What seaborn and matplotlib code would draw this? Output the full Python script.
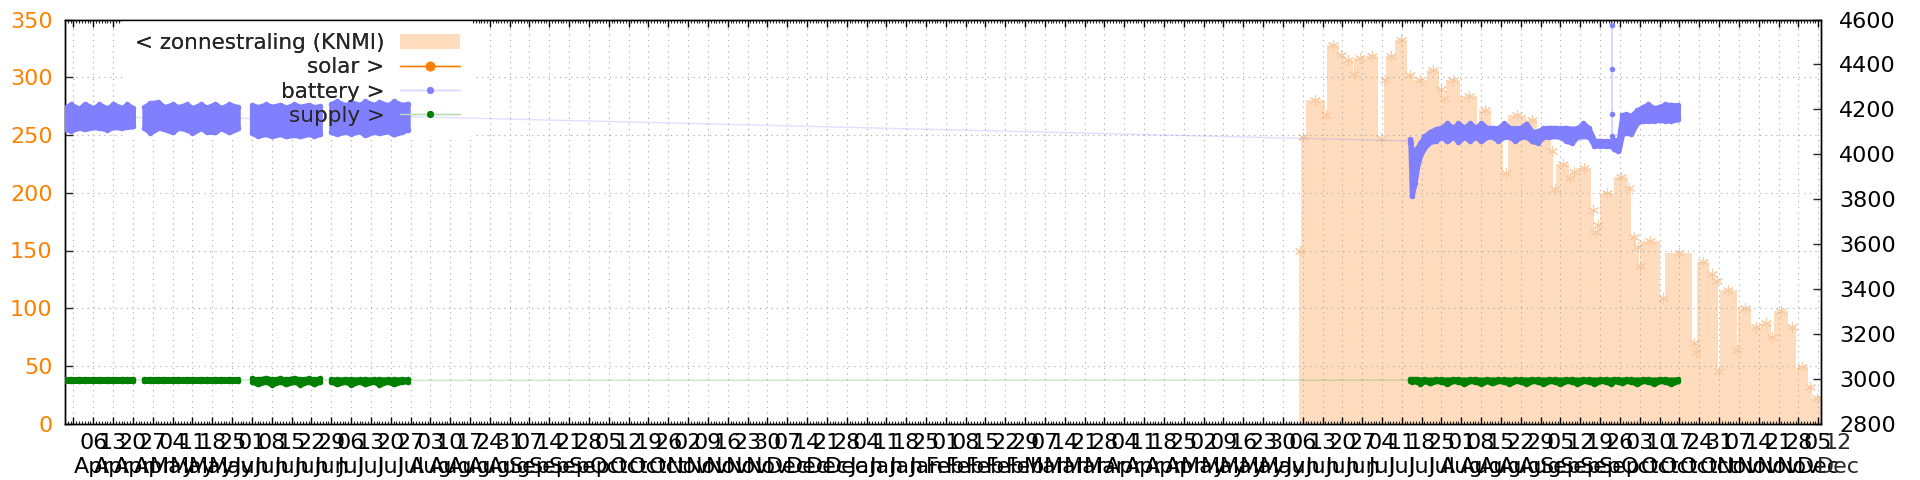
import matplotlib
matplotlib.use("Agg")
import matplotlib.pyplot as plt
import matplotlib.dates as mdates
from matplotlib.lines import Line2D
from matplotlib.patches import Patch
import pandas as pd
import seaborn as sns

# zonnestraling (KNMI), W/m2, left axis -- value holds from this time to the next
zon_time = [
    "2024-06-04 18:00", "2024-06-05 12:00", "2024-06-07 00:00", "2024-06-13 18:00", "2024-06-14 12:00",
    "2024-06-18 18:00", "2024-06-20 12:00", "2024-06-23 18:00", "2024-06-24 06:00", "2024-06-28 12:00",
    "2024-07-02 18:00", "2024-07-04 18:00", "2024-07-05 12:00", "2024-07-08 18:00", "2024-07-13 00:00",
    "2024-07-15 00:00", "2024-07-19 18:00", "2024-07-24 00:00", "2024-07-25 12:00", "2024-07-26 14:00",
    "2024-07-31 16:00", "2024-08-06 10:00", "2024-08-07 08:00", "2024-08-11 14:00", "2024-08-15 18:00",
    "2024-08-17 12:00", "2024-08-23 20:00", "2024-08-27 20:00", "2024-09-01 20:00", "2024-09-02 12:00",
    "2024-09-03 12:00", "2024-09-08 00:00", "2024-09-09 00:00", "2024-09-10 14:00", "2024-09-15 22:00",
    "2024-09-16 20:00", "2024-09-17 20:00", "2024-09-18 20:00", "2024-09-24 00:00", "2024-09-28 18:00",
    "2024-09-30 00:00", "2024-10-01 18:00", "2024-10-02 18:00", "2024-10-03 06:00", "2024-10-10 06:00",
    "2024-10-12 00:00", "2024-10-21 12:00", "2024-10-22 18:00", "2024-10-23 06:00", "2024-10-27 12:00",
    "2024-10-29 18:00", "2024-10-30 12:00", "2024-10-31 06:00", "2024-11-06 06:00", "2024-11-06 18:00",
    "2024-11-11 06:00", "2024-11-14 18:00", "2024-11-18 12:00", "2024-11-19 06:00", "2024-11-24 06:00",
    "2024-11-27 06:00", "2024-12-01 06:00", "2024-12-02 18:00", "2024-12-06 12:00",
]
zon_value = [
    150, 248, 280, 267, 328,
    319, 315, 303, 317, 318,
    247, 298, 318, 332, 302,
    298, 306, 290, 282, 298,
    284, 250, 272, 250, 217,
    267, 263, 249, 236, 203,
    225, 213, 218, 221, 185,
    166, 172, 200, 214, 204,
    162, 153, 137, 158, 109,
    148, 70, 62, 140, 130,
    124, 46, 116, 64, 100,
    84, 87, 75, 98, 84,
    49, 32, 22, 22,
]

# battery and supply (mV, right axis): low / high of the readings around each time
samp_time = [
    "2023-03-27", "2023-03-29", "2023-04-01", "2023-04-03", "2023-04-06", "2023-04-08",
    "2023-04-11", "2023-04-13", "2023-04-16", "2023-04-18", "2023-04-20",
    "2023-04-24", "2023-04-26", "2023-04-29", "2023-05-01", "2023-05-04", "2023-05-06", "2023-05-09",
    "2023-05-11", "2023-05-14", "2023-05-16", "2023-05-19", "2023-05-21", "2023-05-24", "2023-05-27",
    "2023-06-01", "2023-06-03", "2023-06-06", "2023-06-08", "2023-06-11", "2023-06-13",
    "2023-06-16", "2023-06-18", "2023-06-21", "2023-06-23", "2023-06-25",
    "2023-06-29", "2023-07-01", "2023-07-04", "2023-07-06", "2023-07-09", "2023-07-11",
    "2023-07-14", "2023-07-16", "2023-07-19", "2023-07-21", "2023-07-24", "2023-07-26",
    "2024-07-14 00:00", "2024-07-14 12:00", "2024-07-15 12:00", "2024-07-16 12:00", "2024-07-17 12:00",
    "2024-07-19", "2024-07-21", "2024-07-23", "2024-07-25", "2024-07-27", "2024-07-29", "2024-07-31",
    "2024-08-02", "2024-08-04", "2024-08-06", "2024-08-08", "2024-08-10", "2024-08-12", "2024-08-14",
    "2024-08-16", "2024-08-18", "2024-08-20", "2024-08-22", "2024-08-24", "2024-08-26", "2024-08-28",
    "2024-08-30", "2024-09-01", "2024-09-03", "2024-09-05", "2024-09-07", "2024-09-09", "2024-09-11",
    "2024-09-13", "2024-09-15", "2024-09-17", "2024-09-19", "2024-09-21", "2024-09-23", "2024-09-24",
    "2024-09-25 12:00", "2024-09-26 20:00", "2024-09-28", "2024-09-30", "2024-10-02", "2024-10-04",
    "2024-10-06", "2024-10-08", "2024-10-10", "2024-10-12", "2024-10-14", "2024-10-16 12:00",
]
bat_low = [
    4112, 4105, 4118, 4112, 4120, 4118, 4110, 4120, 4118, 4122, 4124,
    4118, 4096, 4118, 4112, 4098, 4118, 4110, 4096, 4116, 4100, 4098, 4116, 4098, 4115,
    4095, 4082, 4090, 4080, 4090, 4080, 4086, 4080, 4090, 4082, 4090,
    4098, 4090, 4100, 4092, 4102, 4085, 4100, 4094, 4102, 4088, 4100, 4110,
    4052, 3815, 3870, 3950, 3995,
    4030, 4055, 4060, 4078, 4058, 4078, 4056,
    4078, 4060, 4078, 4058, 4078, 4078, 4060,
    4078, 4078, 4060, 4078, 4078, 4058, 4052,
    4078, 4078, 4080, 4078, 4060, 4052, 4078,
    4080, 4078, 4038, 4038, 4038, 4036, 4022,
    4015, 4092, 4095, 4092, 4140, 4150,
    4148, 4150, 4152, 4150, 4150, 4155,
]
bat_high = [
    4208, 4222, 4203, 4224, 4205, 4222, 4204, 4224, 4206, 4222, 4205,
    4210, 4228, 4232, 4210, 4222, 4210, 4222, 4206, 4222, 4208, 4224, 4206, 4222, 4210,
    4220, 4210, 4222, 4212, 4220, 4208, 4222, 4212, 4220, 4210, 4215,
    4225, 4235, 4218, 4232, 4220, 4235, 4220, 4232, 4218, 4235, 4220, 4225,
    4066, 4005, 4015, 4030, 4050,
    4080, 4100, 4112, 4118, 4138, 4118, 4138,
    4118, 4138, 4118, 4138, 4118, 4118, 4116,
    4138, 4118, 4116, 4118, 4136, 4100, 4102,
    4116, 4118, 4118, 4116, 4118, 4114, 4116,
    4138, 4116, 4060, 4060, 4058, 4060, 4064,
    4062, 4175, 4178, 4172, 4195, 4210,
    4222, 4205, 4212, 4222, 4220, 4218,
]
sup_low = [
    2990, 2990, 2990, 2990, 2990, 2990, 2990, 2990, 2990, 2990, 2990,
    2990, 2990, 2990, 2990, 2990, 2990, 2990, 2990, 2990, 2990, 2990, 2990, 2990, 2990,
    2988, 2976, 2988, 2974, 2988, 2976, 2988, 2974, 2988, 2976, 2988,
    2988, 2976, 2988, 2974, 2988, 2976, 2988, 2974, 2988, 2976, 2988, 2988,
    2990, 2988, 2990, 2988, 2977,
    2990, 2980, 2990, 2988, 2977, 2990, 2988,
    2977, 2990, 2988, 2977, 2990, 2980, 2990,
    2988, 2977, 2990, 2988, 2977, 2990, 2988,
    2977, 2990, 2988, 2977, 2990, 2988, 2977,
    2990, 2988, 2977, 2990, 2988, 2977, 2990,
    2988, 2980, 2990, 2988, 2977, 2990,
    2988, 2977, 2990, 2988, 2977, 2990,
]
sup_high = [
    2998, 2998, 2998, 2998, 2998, 2998, 2998, 2998, 2998, 2998, 2998,
    2998, 2998, 2998, 2998, 2998, 2998, 2998, 2998, 2998, 2998, 2998, 2998, 2998, 2998,
    3002, 2998, 3004, 2998, 3002, 2998, 3004, 2998, 3002, 2998, 3002,
    2998, 2998, 2998, 2998, 2998, 2998, 2998, 2998, 2998, 2998, 2998, 2998,
    2998, 2998, 2998, 2998, 2997,
    2998, 2997, 2998, 2998, 2997, 2998, 2998,
    2997, 2998, 2998, 2997, 2998, 2997, 2998,
    2998, 2997, 2998, 2998, 2997, 2998, 2998,
    2997, 2998, 2998, 2997, 2998, 2998, 2997,
    2998, 2998, 2997, 2998, 2998, 2997, 2998,
    2998, 2997, 2998, 2998, 2997, 2998,
    2998, 2997, 2998, 2998, 2997, 2998,
]

# single battery readings of the spike on 23 Sep 2024
spike_time = ["2024-09-23 04:00", "2024-09-23 06:00", "2024-09-23 07:00", "2024-09-23 08:00", "2024-09-23 09:00"]
spike_value = [4060, 4576, 4380, 4180, 4082]

# solar: no readings in this window
solar_time = []
solar_value = []

PEACH = "#ffdcbd"
ORANGE = "#ff8000"
BAT = "#8080ff"
SUP = "#008000"

sns.set_theme(style="white")
plt.rcParams["font.family"] = ["DejaVu Sans"]
plt.rcParams["axes.edgecolor"] = "black"
plt.rcParams["axes.linewidth"] = 1.0

fig = plt.figure(figsize=(19.2, 4.8), dpi=100)
ax = fig.add_axes([65 / 1920, 1 - 423.75 / 480, (1821 - 65) / 1920, (423.75 - 19.5) / 480])
ax2 = ax.twinx()

# zonnestraling as filled steps, asterisks on the step tops
zon = pd.DataFrame({"time": pd.to_datetime(zon_time, format="ISO8601"), "value": zon_value})
ax.fill_between(zon["time"], zon["value"], step="post", color=PEACH, lw=0, zorder=1)
mid = zon["time"] + (zon["time"].shift(-1) - zon["time"]) / 2
ax.plot(mid[:-1], zon["value"][:-1], ls="none", marker=(6, 2, 0), ms=8,
        mec="#f9cba3", mew=0.8, zorder=1.5)

samp = pd.DataFrame({"time": pd.to_datetime(samp_time, format="ISO8601"), "blo": bat_low,
                     "bhi": bat_high, "slo": sup_low, "shi": sup_high})
samp["seg"] = (samp["time"].diff() > pd.Timedelta(days=3.5)).cumsum()
samp["bmid"] = (samp["blo"] + samp["bhi"]) / 2
samp["smid"] = (samp["slo"] + samp["shi"]) / 2

# faint connecting lines
sns.lineplot(x=samp["time"], y=samp["smid"], ax=ax2, color=SUP, alpha=0.2, lw=1,
             estimator=None, sort=False, zorder=3)
sns.lineplot(x=samp["time"], y=samp["bmid"], ax=ax2, color=BAT, alpha=0.25, lw=1,
             estimator=None, sort=False, zorder=3)
spike = pd.DataFrame({"time": pd.to_datetime(spike_time, format="ISO8601"), "value": spike_value})
sns.lineplot(x=spike["time"], y=spike["value"], ax=ax2, color=BAT, alpha=0.3, lw=1,
             estimator=None, sort=False, zorder=3)

# dense readings: band between low and high, stroked as wide as one dot
for _, g in samp.groupby("seg"):
    ax2.fill_between(g["time"], g["blo"], g["bhi"], color=BAT, lw=3.6, ec=BAT,
                     joinstyle="round", zorder=4)
    ax2.fill_between(g["time"], g["slo"], g["shi"], color=SUP, lw=3.6, ec=SUP,
                     joinstyle="round", zorder=4)

bat_pts = pd.concat([samp[["time", "blo"]].rename(columns={"blo": "mv"}),
                     samp[["time", "bhi"]].rename(columns={"bhi": "mv"}),
                     spike.rename(columns={"value": "mv"})])
sup_pts = pd.concat([samp[["time", "slo"]].rename(columns={"slo": "mv"}),
                     samp[["time", "shi"]].rename(columns={"shi": "mv"})])
sns.scatterplot(data=bat_pts, x="time", y="mv", ax=ax2, color=BAT, s=16, linewidth=0,
                legend=False, zorder=5)
sns.scatterplot(data=sup_pts, x="time", y="mv", ax=ax2, color=SUP, s=16, linewidth=0,
                legend=False, zorder=5)
solar_line, = ax2.plot(pd.to_datetime(solar_time), solar_value, color=ORANGE, lw=1,
                       marker="o", ms=6)

# axes
ax.set_xlim(pd.Timestamp("2023-03-27"), pd.Timestamp("2024-12-05 05:00"))
ax.set_ylim(0, 350)
ax2.set_ylim(2800, 4600)
ax.set_yticks(range(0, 351, 50))
ax2.set_yticks(range(2800, 4601, 200))

ticks = pd.date_range("2023-03-30", "2024-12-05", freq="7D")
tick_labels = ["" if i == 0 else f"{d:%d}\n{d:%b}" for i, d in enumerate(ticks)]
ax.set_xticks(mdates.date2num(ticks.to_pydatetime()))
ax.set_xticklabels(tick_labels, linespacing=1.25)
ax.set_xticks(mdates.date2num(pd.date_range("2023-03-27", "2024-12-06", freq="D").to_pydatetime()),
              minor=True)

ax.tick_params(axis="x", which="major", direction="in", length=5, width=1, top=True, bottom=True,
               labelsize=16, pad=7, colors="black")
ax.tick_params(axis="x", which="minor", direction="in", length=2.5, width=0.8, top=True, bottom=True)
ax.tick_params(axis="y", which="major", direction="in", length=6, width=1, left=True, right=False,
               labelsize=16, pad=9, labelcolor=ORANGE)
ax2.tick_params(axis="y", which="major", direction="in", length=6, width=1, right=True,
                labelsize=16, pad=13, labelcolor="black")
ax.set_xlabel("")
ax.set_ylabel("")
ax2.set_xlabel("")
ax2.set_ylabel("")

ax.set_axisbelow(False)
ax.grid(True, which="major", axis="both", color="#a8a8a8", ls=(0, (1, 4)), lw=0.8)
ax2.grid(False)

# the last week's label sits just past the right border
ax.annotate("12\nDec", xy=(pd.Timestamp("2024-12-12"), 0), xycoords=("data", "axes fraction"),
            xytext=(0, -7), textcoords="offset points", ha="center", va="top",
            fontsize=16, linespacing=1.25, annotation_clip=False)

# key: white box under the series, text on top
handles = [
    Patch(facecolor=PEACH, edgecolor="none"),
    solar_line,
    Line2D([], [], color="#d8d8ff", lw=1, marker="o", ms=4, mfc=BAT, mec=BAT),
    Line2D([], [], color="#b8dcb8", lw=1, marker="o", ms=4, mfc=SUP, mec=SUP),
]
labels = ["< zonnestraling (KNMI)", "solar >", "battery >", "supply >"]
key_args = dict(loc="upper right", bbox_to_anchor=(473 / 1920, 1 - 20 / 480),
                bbox_transform=fig.transFigure, markerfirst=False, fontsize=15.5,
                handlelength=2.8, handletextpad=0.7, labelspacing=0.2, borderpad=0.6,
                borderaxespad=0)
key_bg = ax2.legend(handles, labels, frameon=True, framealpha=1, facecolor="white",
                    edgecolor="none", fancybox=False, **key_args)
key_bg.set_zorder(2)
ax2.add_artist(key_bg)
key_fg = ax2.legend(handles, labels, frameon=False, **key_args)
key_fg.set_zorder(10)

fig.savefig("out.png", dpi=100)
